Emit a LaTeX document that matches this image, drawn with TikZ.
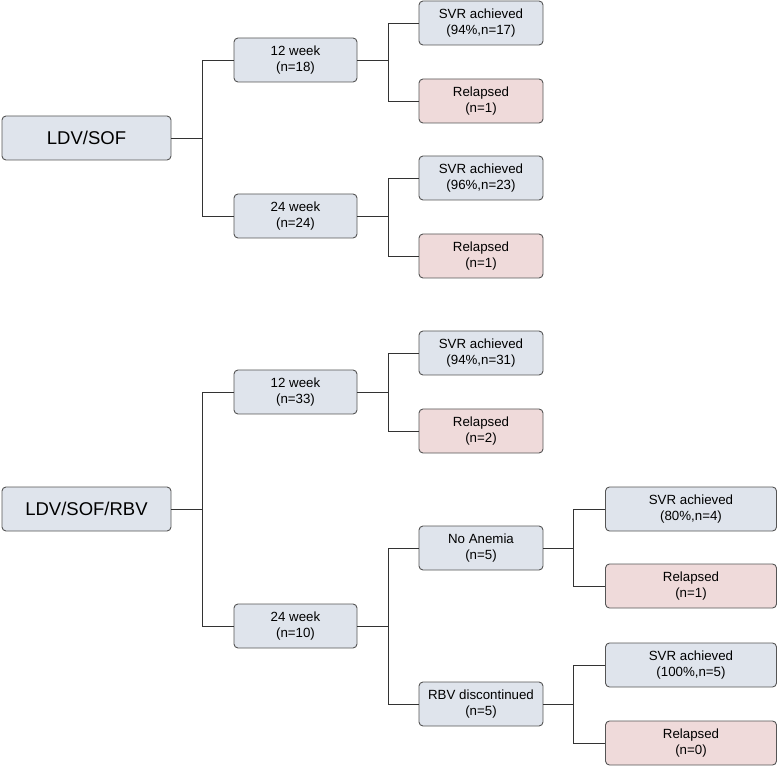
\documentclass[tikz,border=0pt]{standalone}
\usepackage{fontspec}
\setmainfont{Liberation Sans}
\definecolor{boxblue}{HTML}{DFE4EC}
\definecolor{boxred}{HTML}{EFDADA}
\definecolor{edgegray}{HTML}{555555}
\definecolor{linegray}{HTML}{333333}
\begin{document}
\begin{tikzpicture}[x=1pt, y=-1pt,
  box/.style={draw=edgegray, line width=0.9pt, rounded corners=4pt, inner sep=0pt,
    align=center, minimum height=44pt, font=\fontsize{13.3}{16}\selectfont},
  arm/.style={box, fill=boxblue, minimum width=123pt},
  root/.style={box, fill=boxblue, minimum width=169pt, font=\fontsize{18.5}{22}\selectfont},
  ok/.style={box, fill=boxblue, minimum width=124pt},
  bad/.style={box, fill=boxred, minimum width=124pt},
  okw/.style={ok, minimum width=171pt},
  badw/.style={bad, minimum width=171pt},
  e/.style={draw=linegray, line width=0.9pt}
]
\useasboundingbox (0,0) rectangle (777,767);

% --- LDV/SOF tree ---
\node[root] (ldv) at (86.5,138) {LDV/SOF};
\node[arm] (a12) at (295.5,60) {12 week\\(n=18)};
\node[arm] (a24) at (295.5,216) {24 week\\(n=24)};
\node[ok]  (a12s) at (481,23) {SVR achieved\\(94\%,n=17)};
\node[bad] (a12r) at (481,101) {Relapsed\\(n=1)};
\node[ok]  (a24s) at (481,178) {SVR achieved\\(96\%,n=23)};
\node[bad] (a24r) at (481,256) {Relapsed\\(n=1)};

% junctions
\coordinate (ja) at (202,138);
\coordinate (ja12) at (388,60);
\coordinate (ja24) at (388,216);

\draw[e] (ldv) -- (ja);
\draw[e] (a12.west) -| (ja);
\draw[e] (a24.west) -| (ja);
\draw[e] (a12) -- (ja12);
\draw[e] (a12s.west) -| (ja12);
\draw[e] (a12r.west) -| (ja12);
\draw[e] (a24) -- (ja24);
\draw[e] (a24s.west) -| (ja24);
\draw[e] (a24r.west) -| (ja24);

% --- LDV/SOF/RBV tree ---
\node[root] (rbv) at (86.5,509) {LDV/SOF/RBV};
\node[arm] (b12) at (295.5,392) {12 week\\(n=33)};
\node[arm] (b24) at (295.5,626) {24 week\\(n=10)};
\node[ok]  (b12s) at (481,353) {SVR achieved\\(94\%,n=31)};
\node[bad] (b12r) at (481,431) {Relapsed\\(n=2)};
\node[ok]  (noan) at (481,548) {No Anemia\\(n=5)};
\node[ok]  (disc) at (481,704) {RBV discontinued\\(n=5)};
\node[okw]  (noans) at (691,509) {SVR achieved\\(80\%,n=4)};
\node[badw] (noanr) at (691,586) {Relapsed\\(n=1)};
\node[okw]  (discs) at (691,665) {SVR achieved\\(100\%,n=5)};
\node[badw] (discr) at (691,743) {Relapsed\\(n=0)};

% junctions
\coordinate (jb) at (202,509);
\coordinate (jb12) at (388,392);
\coordinate (jb24) at (388,626);
\coordinate (jnoan) at (573,548);
\coordinate (jdisc) at (573,704);

\draw[e] (rbv) -- (jb);
\draw[e] (b12.west) -| (jb);
\draw[e] (b24.west) -| (jb);
\draw[e] (b12) -- (jb12);
\draw[e] (b12s.west) -| (jb12);
\draw[e] (b12r.west) -| (jb12);
\draw[e] (b24) -- (jb24);
\draw[e] (noan.west) -| (jb24);
\draw[e] (disc.west) -| (jb24);
\draw[e] (noan) -- (jnoan);
\draw[e] (noans.west) -| (jnoan);
\draw[e] (noanr.west) -| (jnoan);
\draw[e] (disc) -- (jdisc);
\draw[e] (discs.west) -| (jdisc);
\draw[e] (discr.west) -| (jdisc);

\end{tikzpicture}
\end{document}
